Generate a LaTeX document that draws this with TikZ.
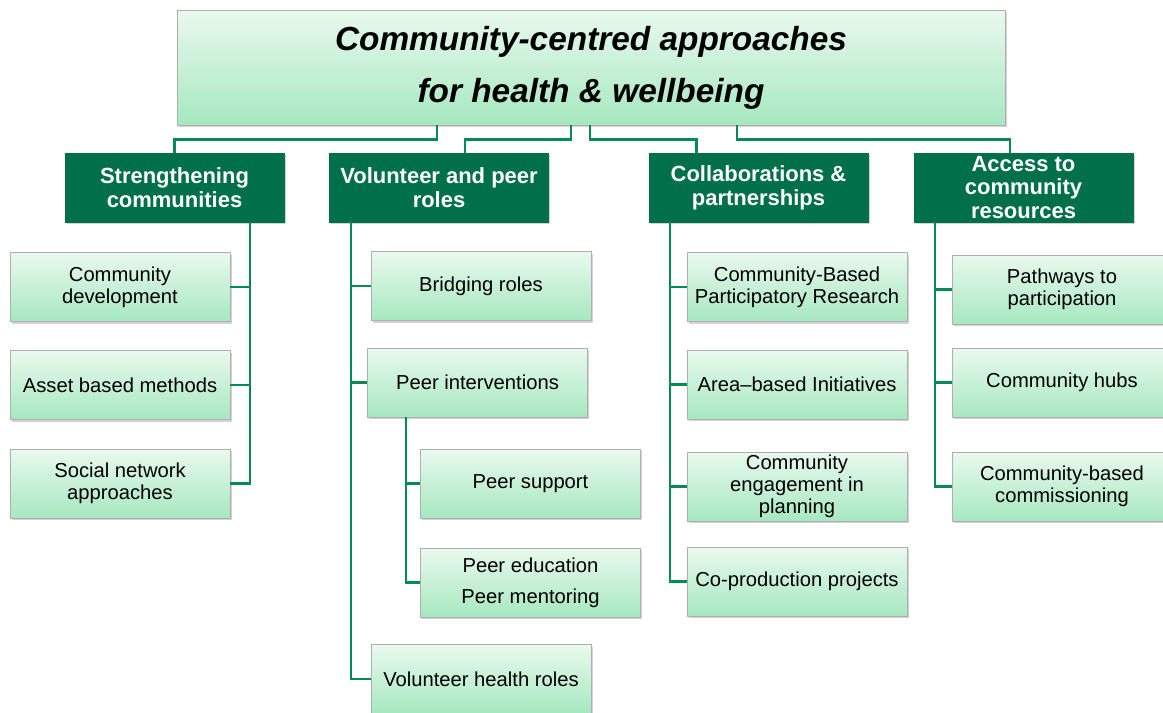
\documentclass[tikz,border=0pt]{standalone}
\usepackage{fontspec}
\setmainfont{Liberation Sans}
\usepackage{xcolor}
\usepackage{tikz}
\usetikzlibrary{shapes,shadows}
\definecolor{darkgreen}{RGB}{0,112,74}
\definecolor{linkgreen}{RGB}{0,140,82}
\definecolor{boxtop}{RGB}{234,249,238}
\definecolor{boxbottom}{RGB}{166,232,192}
\definecolor{boxline}{RGB}{175,175,175}
\tikzstyle{head} = [rectangle, draw=boxline, top color=boxtop, bottom color=boxbottom, minimum width=16.56cm, minimum height=2.3cm, align=center, font=\fontsize{19}{29.5}\selectfont\bfseries\itshape, drop shadow={shadow xshift=1pt, shadow yshift=-1.2pt, opacity=0.35}]
\tikzstyle{topic} = [rectangle, draw=darkgreen, fill=darkgreen, text=white, minimum width=4.38cm, minimum height=1.38cm, align=center, inner sep=1pt, font=\fontsize{12.5}{13.6}\selectfont\bfseries, drop shadow={shadow xshift=1pt, shadow yshift=-1.2pt, opacity=0.35}]
\tikzstyle{leaf} = [rectangle, draw=boxline, top color=boxtop, bottom color=boxbottom, minimum width=4.4cm, minimum height=1.38cm, align=center, inner sep=1pt, font=\fontsize{11.5}{12.5}\selectfont, drop shadow={shadow xshift=1pt, shadow yshift=-1.2pt, opacity=0.35}]
\tikzstyle{line} = [draw, linkgreen, line width=1.4pt]

\begin{document}
\begin{tikzpicture}[x=0.02cm, y=-0.02cm]
\useasboundingbox (0,0) rectangle (1163,713);

\node [head] (title) at (591,67.5) {Community-centred approaches\\for health \& wellbeing};

\node [topic] (sc) at (174.5,187.5) {Strengthening\\communities};
\node [topic] (vp) at (439,187.5) {Volunteer and peer\\roles};
\node [topic] (cp) at (758.5,187.5) {Collaborations \&\\partnerships};
\node [topic] (ac) at (1023.5,187.5) {Access to\\community\\resources};
\path [line] (title.south) ++(-154,0) -- ++(0,14) -| (sc.north);
\path [line] (title.south) ++(-20,0) -- ++(0,14) -| ([xshift=0.52cm]vp.north);
\path [line] (title.south) ++(-1,0) -- ++(0,14) -| ([xshift=-1.24cm]cp.north);
\path [line] (title.south) ++(146,0) -- ++(0,14) -| ([xshift=-0.27cm]ac.north);

% strengthening communities
\node [leaf] (cd) at (120,287) {Community\\development};
\node [leaf] (ab) at (120,385) {Asset based methods};
\node [leaf] (sn) at (120,483.5) {Social network\\approaches};
\coordinate (sct) at ([xshift=1.51cm]sc.south);
\path [line] (sct) |- (sn.east);
\path [line] (cd.east) -- (cd.east -| sct);
\path [line] (ab.east) -- (ab.east -| sct);

% volunteer and peer roles
\node [leaf] (br) at (481,286) {Bridging roles};
\node [leaf] (pi) at (477.5,382.5) {Peer interventions};
\node [leaf] (ps) at (530.5,483.5) {Peer support};
\node [leaf] (pe) at (530.5,582.5) {Peer education\\[5pt]Peer mentoring};
\node [leaf] (vh) at (481,679) {Volunteer health roles};
\coordinate (vpt) at ([xshift=-1.76cm]vp.south);
\path [line] (vpt) |- (vh.west);
\path [line] (br.west) -- (br.west -| vpt);
\path [line] (pi.west) -- (pi.west -| vpt);
\coordinate (pit) at ([xshift=-1.43cm]pi.south);
\path [line] (pit) |- (pe.west);
\path [line] (ps.west) -- (ps.west -| pit);

% collaborations & partnerships
\node [leaf] (cb) at (797,287) {Community-Based\\Participatory Research};
\node [leaf] (ar) at (797,384.5) {Area--based Initiatives};
\node [leaf] (ce) at (797,486.5) {Community\\engagement in\\planning};
\node [leaf] (co) at (797,581.5) {Co-production projects};
\coordinate (cpt) at ([xshift=-1.77cm]cp.south);
\path [line] (cpt) |- (co.west);
\path [line] (cb.west) -- (cb.west -| cpt);
\path [line] (ar.west) -- (ar.west -| cpt);
\path [line] (ce.west) -- (ce.west -| cpt);

% access to community resources
\node [leaf] (pw) at (1062,289.5) {Pathways to\\participation};
\node [leaf] (hb) at (1062,382.5) {Community hubs};
\node [leaf] (cc) at (1062,486.5) {Community-based\\commissioning};
\coordinate (act) at ([xshift=-1.77cm]ac.south);
\path [line] (act) |- (cc.west);
\path [line] (pw.west) -- (pw.west -| act);
\path [line] (hb.west) -- (hb.west -| act);
\end{tikzpicture}
\end{document}
